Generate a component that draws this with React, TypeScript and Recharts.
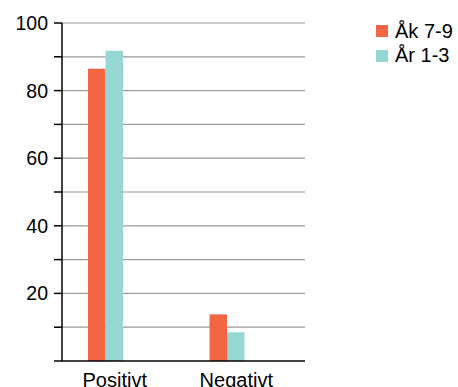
import { Bar, BarChart, CartesianGrid, XAxis, YAxis } from "recharts";

const categories = ["Positivt", "Negativt"];
const ak79 = [86.5, 13.8];
const ar13 = [91.8, 8.5];
const yTicks = [0, 10, 20, 30, 40, 50, 60, 70, 80, 90, 100];

const series = [
  { key: "ak79", name: "Åk 7-9", color: "#F26644" },
  { key: "ar13", name: "År 1-3", color: "#97D7D3" },
];

const data = categories.map((name, i) => ({
  name,
  ak79: ak79[i],
  ar13: ar13[i],
  pad1: null,
  pad2: null,
}));

const font = "'Liberation Sans', Arial, sans-serif";

const App = () => {
  return (
    <div style={{ position: "absolute", left: 0, top: 0, width: 458, height: 387, background: "#fff" }}>
      <BarChart
        width={458}
        height={387}
        data={data}
        margin={{ top: 23, right: 153, bottom: 0, left: 2 }}
        barGap={0}
        barSize={17.5}
        style={{ fontFamily: font }}
      >
        <CartesianGrid
          horizontal
          vertical={false}
          stroke="#9a9a9a"
          strokeWidth={1.2}
          horizontalValues={yTicks.filter((t) => t > 0)}
        />
        <XAxis
          dataKey="name"
          height={26}
          tickLine={false}
          axisLine={{ stroke: "#000", strokeWidth: 1.5 }}
          tick={{ fontSize: 20, fill: "#000", dx: -8 }}
          tickMargin={6}
          interval={0}
        />
        <YAxis
          width={60}
          domain={[0, 100]}
          ticks={yTicks}
          interval={0}
          tickSize={8}
          tickMargin={6}
          tickLine={{ stroke: "#000", strokeWidth: 1.5 }}
          axisLine={{ stroke: "#000", strokeWidth: 1.5 }}
          tick={{ fontSize: 19.5, fill: "#000" }}
          tickFormatter={(v: number) => (v > 0 && v % 20 === 0 ? String(v) : "")}
        />
        <Bar dataKey="ak79" name="Åk 7-9" fill="#F26644" isAnimationActive={false} />
        <Bar dataKey="ar13" name="År 1-3" fill="#97D7D3" isAnimationActive={false} />
        <Bar dataKey="pad1" legendType="none" fill="none" isAnimationActive={false} />
        <Bar dataKey="pad2" legendType="none" fill="none" isAnimationActive={false} />
      </BarChart>
      <div
        style={{
          position: "absolute",
          left: 376,
          top: 19,
          fontFamily: font,
          fontSize: 20,
          color: "#000",
        }}
      >
        {series.map((s) => (
          <div key={s.key} style={{ display: "flex", alignItems: "center", height: 24.5 }}>
            <span
              style={{ width: 12, height: 12, background: s.color, display: "inline-block", marginRight: 7 }}
            />
            <span>{s.name}</span>
          </div>
        ))}
      </div>
    </div>
  );
};

export default App;
